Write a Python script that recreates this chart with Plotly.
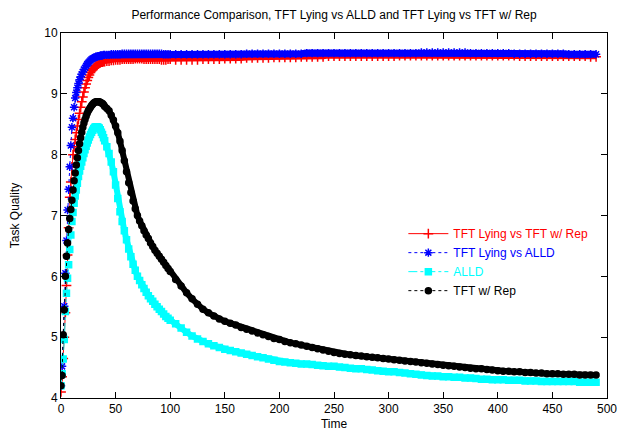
import plotly.graph_objects as go

# Time axis (dense early, sparser later)
time = list(range(0, 41)) + list(range(42, 101, 2)) + list(range(105, 491, 5))

red_tft_lying_vs_tft_rep = [
    4.10, 4.35, 4.65, 5.00, 5.40, 5.85, 6.35, 6.80, 7.30, 7.55,
    7.80, 8.00, 8.13, 8.25, 8.36, 8.47, 8.58, 8.68, 8.78, 8.87,
    8.95, 9.03, 9.10, 9.16, 9.22, 9.27, 9.31, 9.35, 9.38, 9.40,
    9.42, 9.44, 9.46, 9.47, 9.49, 9.50, 9.51, 9.52, 9.52, 9.53, 9.53,
    9.54, 9.54, 9.55, 9.55, 9.56, 9.56, 9.56, 9.57, 9.57, 9.57,
    9.57, 9.57, 9.57, 9.58, 9.58, 9.58, 9.58, 9.57, 9.57, 9.57,
    9.57, 9.57, 9.57, 9.57, 9.57, 9.56, 9.56, 9.56, 9.57, 9.57,
    9.56, 9.56, 9.56, 9.56, 9.56, 9.57, 9.57, 9.57, 9.57, 9.58,
    9.58, 9.58, 9.58, 9.59, 9.59, 9.59, 9.59, 9.59, 9.60, 9.60,
    9.60, 9.60, 9.60, 9.61, 9.61, 9.61, 9.61, 9.61, 9.62, 9.62,
    9.62, 9.62, 9.62, 9.62, 9.62, 9.62, 9.62, 9.62, 9.62, 9.62,
    9.62, 9.63, 9.63, 9.63, 9.63, 9.63, 9.63, 9.63, 9.63, 9.63,
    9.63, 9.63, 9.63, 9.63, 9.63, 9.63, 9.63, 9.63, 9.63, 9.63,
    9.63, 9.63, 9.63, 9.62, 9.62, 9.62, 9.62, 9.62, 9.62, 9.62,
    9.62, 9.62, 9.62, 9.62, 9.62, 9.62, 9.61, 9.61,
]

blue_tft_lying_vs_alld = [
    4.20, 4.52, 5.00, 5.51, 6.05, 6.59, 7.09, 7.43, 7.80, 8.15,
    8.45, 8.60, 8.78, 8.93, 9.02, 9.10, 9.17, 9.23, 9.28, 9.32,
    9.36, 9.40, 9.43, 9.46, 9.49, 9.51, 9.53, 9.55, 9.57, 9.58,
    9.59, 9.60, 9.61, 9.61, 9.62, 9.62, 9.63, 9.63, 9.63, 9.64, 9.64,
    9.64, 9.64, 9.65, 9.65, 9.65, 9.65, 9.65, 9.66, 9.66, 9.66,
    9.66, 9.66, 9.66, 9.66, 9.66, 9.66, 9.66, 9.66, 9.66, 9.66,
    9.66, 9.66, 9.66, 9.66, 9.66, 9.66, 9.65, 9.65, 9.65, 9.65,
    9.65, 9.65, 9.65, 9.65, 9.65, 9.65, 9.65, 9.65, 9.65, 9.65,
    9.65, 9.65, 9.65, 9.66, 9.66, 9.66, 9.66, 9.66, 9.66, 9.66,
    9.66, 9.66, 9.66, 9.66, 9.67, 9.67, 9.67, 9.67, 9.67, 9.67,
    9.67, 9.67, 9.67, 9.67, 9.67, 9.67, 9.67, 9.67, 9.67, 9.67,
    9.67, 9.67, 9.67, 9.67, 9.67, 9.68, 9.68, 9.68, 9.68, 9.68,
    9.68, 9.68, 9.68, 9.68, 9.67, 9.67, 9.67, 9.67, 9.67, 9.67,
    9.67, 9.67, 9.66, 9.66, 9.66, 9.66, 9.66, 9.66, 9.66, 9.66,
    9.66, 9.66, 9.65, 9.65, 9.65, 9.65, 9.65, 9.65,
]

cyan_alld = [
    4.20, 4.40, 4.64, 4.96, 5.42, 5.72, 5.97, 6.19, 6.44, 6.68,
    6.90, 7.05, 7.20, 7.32, 7.42, 7.53, 7.64, 7.73, 7.81, 7.88,
    7.95, 8.02, 8.08, 8.14, 8.19, 8.24, 8.29, 8.33, 8.37, 8.40,
    8.43, 8.45, 8.46, 8.46, 8.45, 8.44, 8.41, 8.37, 8.33, 8.28, 8.23,
    8.13, 8.02, 7.88, 7.72, 7.50, 7.28, 7.06, 6.90, 6.75, 6.60,
    6.45, 6.32, 6.20, 6.10, 6.00, 5.93, 5.86, 5.80, 5.74, 5.68,
    5.63, 5.59, 5.54, 5.50, 5.46, 5.42, 5.38, 5.34, 5.31, 5.28,
    5.22, 5.15, 5.08, 5.02, 4.97, 4.93, 4.89, 4.86, 4.83, 4.80,
    4.78, 4.76, 4.74, 4.72, 4.70, 4.68, 4.66, 4.64, 4.62, 4.60,
    4.59, 4.58, 4.57, 4.56, 4.56, 4.55, 4.54, 4.53, 4.52, 4.52,
    4.51, 4.50, 4.49, 4.48, 4.48, 4.47, 4.46, 4.45, 4.44, 4.43,
    4.43, 4.42, 4.41, 4.40, 4.39, 4.38, 4.37, 4.36, 4.36, 4.35,
    4.35, 4.34, 4.34, 4.33, 4.33, 4.32, 4.31, 4.31, 4.30, 4.30,
    4.30, 4.29, 4.29, 4.29, 4.28, 4.28, 4.28, 4.27, 4.27, 4.27,
    4.27, 4.27, 4.27, 4.27, 4.26, 4.26, 4.26, 4.26,
]

black_tft_rep = [
    4.20, 4.37, 5.04, 5.45, 6.00, 6.33, 6.55, 6.77, 6.95, 7.10,
    7.25, 7.42, 7.57, 7.70, 7.83, 7.95, 8.07, 8.18, 8.28, 8.37,
    8.45, 8.52, 8.58, 8.63, 8.68, 8.72, 8.75, 8.78, 8.81, 8.83,
    8.85, 8.86, 8.87, 8.87, 8.87, 8.87, 8.86, 8.85, 8.84, 8.82, 8.79,
    8.76, 8.72, 8.65, 8.57, 8.47, 8.36, 8.22, 8.07, 7.90, 7.72,
    7.54, 7.38, 7.24, 7.11, 7.00, 6.91, 6.83, 6.75, 6.68, 6.62,
    6.55, 6.49, 6.43, 6.38, 6.33, 6.28, 6.23, 6.18, 6.13, 6.08,
    5.95, 5.84, 5.73, 5.63, 5.54, 5.46, 5.40, 5.35, 5.30, 5.26,
    5.23, 5.20, 5.16, 5.13, 5.10, 5.07, 5.04, 5.01, 4.98, 4.96,
    4.93, 4.91, 4.89, 4.87, 4.85, 4.83, 4.81, 4.79, 4.77, 4.75,
    4.73, 4.72, 4.71, 4.70, 4.69, 4.68, 4.67, 4.66, 4.65, 4.64,
    4.63, 4.62, 4.61, 4.60, 4.59, 4.58, 4.57, 4.56, 4.55, 4.54,
    4.53, 4.52, 4.51, 4.50, 4.49, 4.48, 4.48, 4.47, 4.46, 4.45,
    4.44, 4.44, 4.43, 4.43, 4.42, 4.42, 4.41, 4.41, 4.40, 4.40,
    4.40, 4.39, 4.39, 4.39, 4.38, 4.38, 4.38, 4.38,
]

series = [
    ("TFT Lying vs TFT w/ Rep", red_tft_lying_vs_tft_rep, "#ff0000", "solid", "cross-thin-open", 7, 5),
    ("TFT Lying vs ALLD", blue_tft_lying_vs_alld, "#0000ff", "dot", "asterisk-open", 7, 7),
    ("ALLD", cyan_alld, "#00ffff", "dashdot", "square", 6, 6),
    ("TFT w/ Rep", black_tft_rep, "#000000", "dot", "circle", 6, 6),
]

band_start = 40  # index from which the dense markers merge into a band

fig = go.Figure()
for name, vals, color, dash, symbol, size, band_w in series:
    fig.add_trace(go.Scatter(
        x=time[band_start:], y=vals[band_start:], mode="lines",
        line=dict(color=color, width=band_w),
        showlegend=False, hoverinfo="skip",
    ))
    fig.add_trace(go.Scatter(
        x=time, y=vals, mode="lines+markers",
        name=f'<span style="color:{color}">{name}</span>',
        line=dict(color=color, width=1, dash=dash),
        marker=dict(symbol=symbol, size=size, color=color,
                    line=dict(color=color, width=1.5)),
    ))

axis_common = dict(
    showline=True, linecolor="black", linewidth=1, mirror="ticks",
    ticks="inside", ticklen=6, tickcolor="black", showgrid=False,
    zeroline=False, tickfont=dict(size=12, color="black"), automargin=False,
)

# The page body adds an 8px offset, so the figure is sized to fit the window.
fig.update_layout(
    width=621, height=426,
    margin=dict(l=53, r=22, t=25, b=36),
    paper_bgcolor="white", plot_bgcolor="white",
    font=dict(family="Liberation Sans, Arial, sans-serif", size=12, color="black"),
    title=dict(text="Performance Comparison, TFT Lying vs ALLD and TFT Lying vs TFT w/ Rep",
               x=0.525, xanchor="center", y=0.984, yanchor="middle",
               font=dict(size=12, color="black")),
    xaxis=dict(range=[0, 500], dtick=50, tick0=0,
               title=dict(text="Time", standoff=4, font=dict(size=12)), **axis_common),
    yaxis=dict(range=[4, 10], dtick=1, tick0=4,
               title=dict(text="Task Quality", standoff=23, font=dict(size=12)), **axis_common),
    legend=dict(x=0.975, xanchor="right", y=0.49, yanchor="top",
                bgcolor="rgba(0,0,0,0)", font=dict(size=12, color="black"),
                itemwidth=40, tracegroupgap=0),
    showlegend=True,
)

fig.write_html("out.html")
